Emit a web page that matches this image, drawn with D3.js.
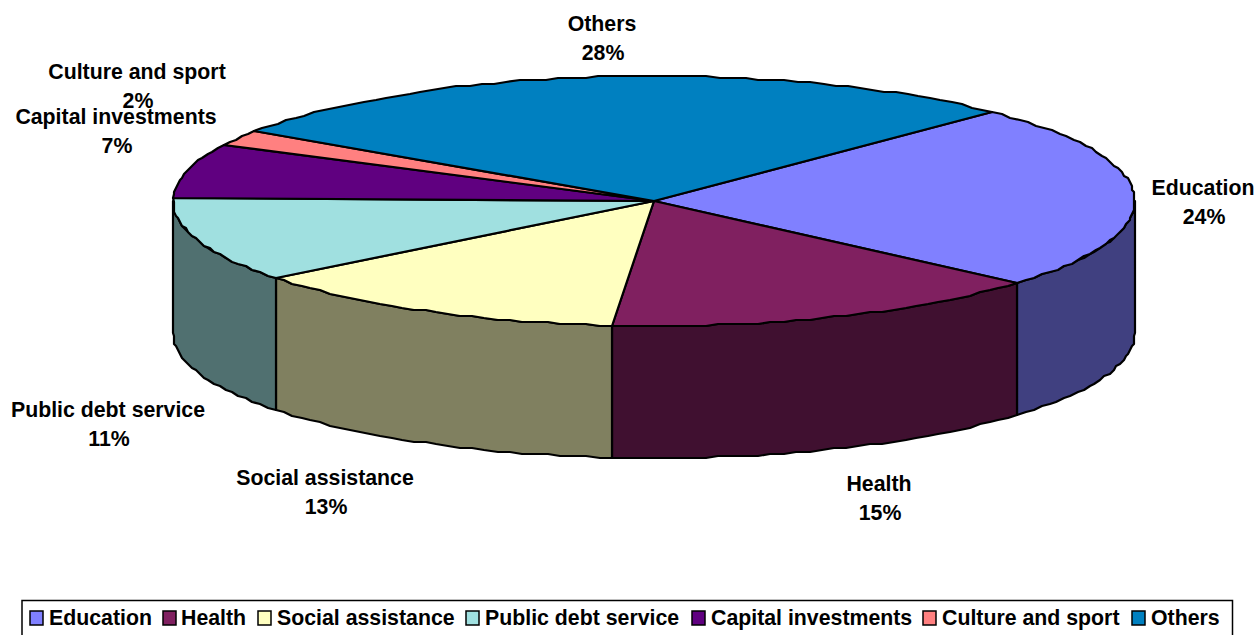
<!DOCTYPE html>
<html>
<head>
<meta charset="utf-8">
<style>
  html, body { margin: 0; padding: 0; background: #fff; }
  svg { display: block; }
  text { font-family: "Liberation Sans", Arial, sans-serif; font-weight: bold; fill: #000; }
</style>
</head>
<body>
<svg id="chart" width="1256" height="635"></svg>
<script src="https://cdn.jsdelivr.net/npm/d3@7"></script>
<script>
const categories = ["Education", "Health", "Social assistance", "Public debt service", "Capital investments", "Culture and sport", "Others"];
const shares = [24, 15, 13, 11, 7, 2, 28];
const topColors = ["#8080ff", "#802060", "#ffffc0", "#a0e0e0", "#600080", "#ff8080", "#0080c0"];
const sideColors = ["#404080", "#401030", "#808060", "#507070", "#300040", "#804040", "#004060"];
const labelAnchors = [[1203, 188], [879, 484], [325, 478], [108, 410], [116, 117], [137, 72], [602, 24]];
const legendX = [30, 163, 258, 466, 692, 923, 1132];
const legendTextX = [49, 181, 277, 485, 711, 942, 1151];

const svg = d3.select("#chart");
const cx = 654, cy = 201, rx = 481, ry = 125, depth = 132;
const fontSize = 21.3;

// Unit-circle coordinates map onto the tilted disc through two linear scales.
const sx = d3.scaleLinear().domain([-1, 1]).range([cx - rx, cx + rx]);
const sy = d3.scaleLinear().domain([-1, 1]).range([cy + ry, cy - ry]);
const px = t => sx(Math.sin(t));
const py = t => sy(Math.cos(t));

const startAngle = 44.6 * Math.PI / 180;
const arcs = d3.pie().sort(null).startAngle(startAngle).endAngle(startAngle + 2 * Math.PI)(shares);

const line = d3.line().x(d => d[0]).y(d => d[1]);

// Rim outline is a coarse polyline snapped to whole pixels, which gives the stepped edge.
function rim(a0, a1, dy = 0) {
  const n = Math.max(2, Math.ceil((a1 - a0) / 0.028));
  return d3.range(n + 1).map(i => {
    const t = a0 + (a1 - a0) * i / n;
    const snap = (i === 0 || i === n) ? 1 : 2;
    return [Math.round(px(t) / snap) * snap, Math.round((py(t) + dy) / snap) * snap];
  });
}

const strokeColor = "#000", strokeWidth = 2.2;

// Side walls: only the part of each slice on the near half of the disc is visible.
const nearFrom = Math.PI / 2, nearTo = 3 * Math.PI / 2;
arcs.forEach((a, i) => {
  const a0 = Math.max(a.startAngle, nearFrom), a1 = Math.min(a.endAngle, nearTo);
  if (a1 <= a0) return;
  const pts = rim(a0, a1).concat(rim(a0, a1, depth).reverse());
  svg.append("path")
    .attr("d", line(pts) + "Z")
    .attr("fill", sideColors[i])
    .attr("stroke", strokeColor)
    .attr("stroke-width", strokeWidth)
    .attr("stroke-linejoin", "round");
});

// Top faces.
arcs.forEach((a, i) => {
  const pts = [[cx, cy]].concat(rim(a.startAngle, a.endAngle));
  svg.append("path")
    .attr("d", line(pts) + "Z")
    .attr("fill", topColors[i])
    .attr("stroke", strokeColor)
    .attr("stroke-width", strokeWidth)
    .attr("stroke-linejoin", "round");
});

// Two-line data labels: category name above its percentage.
const labels = svg.append("g").attr("font-size", fontSize).attr("text-anchor", "middle");
categories.forEach((name, i) => {
  const [x, y] = labelAnchors[i];
  labels.append("text").attr("x", x).attr("y", y + 7).text(name);
  labels.append("text").attr("x", x + 1).attr("y", y + 36).text(shares[i] + "%");
});

// Legend frame and entries along the bottom edge.
svg.append("rect")
  .attr("x", 22).attr("y", 600.5).attr("width", 1210.5).attr("height", 40)
  .attr("fill", "#fff").attr("stroke", "#000").attr("stroke-width", 1.5);
categories.forEach((name, i) => {
  svg.append("rect")
    .attr("x", legendX[i]).attr("y", 611).attr("width", 13).attr("height", 14)
    .attr("fill", topColors[i]).attr("stroke", "#000").attr("stroke-width", 1.5);
  svg.append("text")
    .attr("x", legendTextX[i]).attr("y", 625)
    .attr("font-size", fontSize).text(name);
});
</script>
</body>
</html>
